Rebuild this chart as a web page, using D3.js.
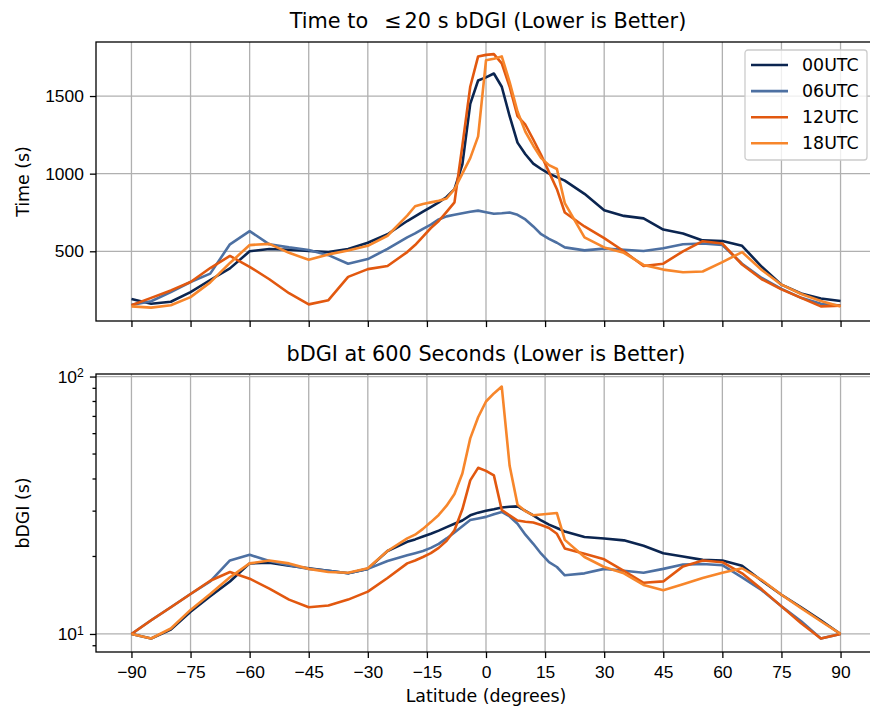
<!DOCTYPE html>
<html>
<head>
<meta charset="utf-8">
<script src="https://cdn.jsdelivr.net/npm/d3@7"></script>
<style>
    body { margin: 0; background: #fff; }
    svg { font-family: "DejaVu Sans", sans-serif; }
    .grid line { stroke: #b0b0b0; stroke-width: 1.3; }
    .axis path, .axis line { stroke: #000; stroke-width: 1.3; }
    .axis text { font-size: 17.4px; fill: #000; }
    .series { fill: none; stroke-width: 2.6; stroke-linejoin: round; }
</style>
</head>
<body>
<svg width="870" height="710"></svg>
<script>
const width = 870, height = 710;

// latitude grid shared by every series
const lats = [-90, -85, -80, -75, -70, -65, -60, -55, -50, -45, -40, -35, -30, -25, -20,
    -18, -16, -14, -12, -10, -8, -6, -4, -2, 0, 2, 4, 6, 8, 10, 12, 14, 16, 18,
    20, 25, 30, 35, 40, 45, 50, 55, 60, 65, 70, 75, 80, 85, 90];

const runs = ["00UTC", "06UTC", "12UTC", "18UTC"];
const colors = ["#0b2550", "#4d70a2", "#e2580f", "#f7862b"];

// Time to <=20 s bDGI (s)
const time00 = [192, 162, 175, 237, 315, 390, 500, 515, 510, 502, 495, 515, 555, 610, 695,
    725, 755, 785, 815, 850, 900, 1060, 1450, 1600, 1620, 1645, 1560, 1370, 1200, 1125, 1065, 1030, 1000, 978,
    955, 870, 764, 728, 712, 640, 615, 570, 566, 535, 400, 285, 228, 196, 180];
const time06 = [155, 178, 237, 302, 356, 545, 630, 545, 525, 508, 475, 420, 450, 515, 590,
    615, 645, 672, 705, 725, 735, 745, 755, 762, 752, 742, 745, 750, 735, 705, 660, 610, 580, 555,
    525, 506, 517, 510, 502, 520, 545, 550, 540, 420, 328, 258, 200, 162, 150];
const time12 = [152, 200, 248, 302, 392, 470, 400, 320, 230, 158, 185, 335, 385, 405, 495,
    540, 595, 650, 695, 754, 815, 1180, 1560, 1755, 1765, 1770, 1710, 1560, 1370, 1315, 1220, 1120, 1010, 900,
    750, 660, 585, 500, 405, 420, 500, 565, 550, 415, 320, 255, 200, 145, 150];
const time18 = [145, 137, 152, 205, 300, 425, 540, 548, 490, 445, 480, 505, 535, 600, 730,
    790, 805, 815, 825, 840, 900, 1000, 1100, 1240, 1730, 1740, 1755, 1590, 1400, 1270, 1180, 1100, 1055, 1030,
    810, 590, 525, 490, 412, 382, 365, 370, 430, 495, 380, 285, 225, 180, 145];

// bDGI at 600 seconds (s)
const dgi00 = [10, 9.6, 10.4, 12.2, 14.0, 16.0, 18.8, 18.9, 18.4, 18.0, 17.6, 17.2, 17.9, 21.0, 22.8,
    23.3, 23.9, 24.5, 25.2, 26.0, 26.8, 27.6, 28.9, 29.6, 30.1, 30.5, 31.0, 31.2, 31.3, 30.1, 28.9, 27.6, 26.6, 25.8,
    25.0, 23.8, 23.5, 23.1, 22.0, 20.6, 20.0, 19.4, 19.3, 18.4, 16.1, 14.2, 12.7, 11.3, 10];
const dgi06 = [10, 11.3, 12.7, 14.3, 16.0, 19.3, 20.3, 19.2, 18.5, 17.9, 17.6, 17.2, 17.9, 19.2, 20.2,
    20.6, 21.0, 21.6, 22.4, 23.5, 24.8, 26.2, 27.7, 28.1, 28.5, 29.2, 29.8, 28.6, 26.8, 24.3, 22.4, 20.5, 19.0, 18.2,
    16.9, 17.2, 17.9, 17.6, 17.3, 17.9, 18.6, 18.7, 18.5, 16.6, 14.8, 12.8, 11.2, 9.6, 10];
const dgi12 = [10, 11.3, 12.7, 14.3, 16.1, 17.4, 16.4, 15.0, 13.6, 12.7, 12.9, 13.6, 14.6, 16.5, 18.8,
    19.3, 19.9, 20.6, 21.6, 23.0, 25.3, 30.5, 39.5, 44.2, 43.0, 41.3, 30.3, 28.9, 27.6, 27.3, 27.1, 26.5, 25.8, 24.5,
    21.5, 20.5, 19.5, 17.6, 15.8, 16.0, 18.3, 19.3, 19.0, 17.2, 14.9, 12.8, 11.0, 9.6, 10];
const dgi18 = [10, 9.6, 10.5, 12.4, 14.3, 16.6, 18.8, 19.3, 18.8, 17.9, 17.4, 17.3, 18.0, 21.0, 23.5,
    24.3, 25.6, 27.2, 29.0, 31.5, 35.0, 42.0, 57.5, 69.5, 80.0, 86.0, 91.4, 45.0, 31.8, 30.0, 28.9, 29.1, 29.3, 29.5,
    23.2, 19.9, 18.2, 17.2, 15.5, 14.8, 15.6, 16.5, 17.3, 18.0, 16.2, 14.2, 12.6, 11.2, 10];

const xTicks = [-90, -75, -60, -45, -30, -15, 0, 15, 30, 45, 60, 75, 90];
const timeTicks = [500, 1000, 1500];
const dgiTicks = [10, 100];
const dgiMinor = [9, 20, 30, 40, 50, 60, 70, 80, 90];

const svg = d3.select("svg");
const x = d3.scaleLinear().domain([-99, 99]).range([96, 876]);
const fmtX = d => d < 0 ? "\u2212" + Math.abs(d) : String(d);
const tickLen = 6.1, tickPad = 6.1;

const topPanel = {y: d3.scaleLinear().domain([51, 1848]).range([321, 42]), t: 42, b: 321};
const botPanel = {y: d3.scaleLog().domain([8.51, 102.3]).range([652, 374]), t: 374, b: 652};

svg.append("clipPath").attr("id", "clipTop")
    .append("rect").attr("x", 96).attr("y", topPanel.t).attr("width", 780).attr("height", topPanel.b - topPanel.t);
svg.append("clipPath").attr("id", "clipBot")
    .append("rect").attr("x", 96).attr("y", botPanel.t).attr("width", 780).attr("height", botPanel.b - botPanel.t);

drawPanel(topPanel, [time00, time06, time12, time18], timeTicks, "clipTop");
drawPanel(botPanel, [dgi00, dgi06, dgi12, dgi18], dgiTicks, "clipBot");

function drawPanel(p, series, yTicks, clip) {
    const grid = svg.append("g").attr("class", "grid");
    grid.selectAll(".gx").data(xTicks).join("line")
        .attr("class", "gx")
        .attr("x1", d => x(d)).attr("x2", d => x(d))
        .attr("y1", p.t).attr("y2", p.b);
    grid.selectAll(".gy").data(yTicks).join("line")
        .attr("class", "gy")
        .attr("x1", 96).attr("x2", 876)
        .attr("y1", d => p.y(d)).attr("y2", d => p.y(d));

    const line = d3.line().x((d, i) => x(lats[i])).y(d => p.y(d));
    svg.append("g").attr("clip-path", `url(#${clip})`)
        .selectAll("path").data(series).join("path")
        .attr("class", "series")
        .attr("stroke", (d, i) => colors[i])
        .attr("d", line);

    // spines
    svg.append("rect")
        .attr("x", 96).attr("y", p.t).attr("width", 780).attr("height", p.b - p.t)
        .attr("fill", "none").attr("stroke", "#000").attr("stroke-width", 1.3);
}

// x axes
svg.append("g").attr("class", "axis")
    .attr("transform", `translate(0,${topPanel.b})`)
    .call(d3.axisBottom(x).tickValues(xTicks).tickSize(tickLen).tickFormat(""))
    .call(g => g.select(".domain").remove());
svg.append("g").attr("class", "axis")
    .attr("transform", `translate(0,${botPanel.b})`)
    .call(d3.axisBottom(x).tickValues(xTicks).tickSize(tickLen).tickPadding(7.5).tickFormat(fmtX))
    .call(g => g.select(".domain").remove());

// y axes
svg.append("g").attr("class", "axis")
    .attr("transform", "translate(96,0)")
    .call(d3.axisLeft(topPanel.y).tickValues(timeTicks).tickSize(tickLen).tickPadding(tickPad).tickFormat(d3.format("d")))
    .call(g => g.select(".domain").remove());

const dgiAxis = svg.append("g").attr("class", "axis")
    .attr("transform", "translate(96,0)")
    .call(d3.axisLeft(botPanel.y).tickValues(dgiTicks).tickSize(tickLen).tickPadding(tickPad).tickFormat(""))
    .call(g => g.select(".domain").remove());
dgiAxis.selectAll(".tick text").each(function (d) {
    const t = d3.select(this);
    t.append("tspan").text("10");
    t.append("tspan").attr("dy", "-0.45em").style("font-size", "12.2px").text(Math.round(Math.log10(d)));
});
svg.append("g").attr("class", "axis")
    .selectAll("line").data(dgiMinor).join("line")
    .attr("x1", 96).attr("x2", 96 - 3.5)
    .attr("y1", d => botPanel.y(d)).attr("y2", d => botPanel.y(d));

// titles and labels
const label = (txt, xx, yy, size, rot) => svg.append("text")
    .attr("transform", `translate(${xx},${yy})` + (rot ? " rotate(-90)" : ""))
    .attr("text-anchor", "middle")
    .style("font-size", size + "px")
    .text(txt);

const title1 = label("", 488, 28, 20.8);
title1.append("tspan").text("Time to");
title1.append("tspan").attr("dx", 16).text("\u2264");
title1.append("tspan").attr("dx", 3).text("20");
title1.append("tspan").text("\u00a0s bDGI (Lower is Better)");
label("bDGI at 600 Seconds (Lower is Better)", 486, 361, 20.8);
label("Time (s)", 28.5, (topPanel.t + topPanel.b) / 2, 17.4, true);
label("bDGI (s)", 28.5, (botPanel.t + botPanel.b) / 2, 17.4, true);
label("Latitude (degrees)", 486, 702, 17.4);

// legend
const legend = svg.append("g").attr("transform", "translate(745,50)");
legend.append("rect")
    .attr("width", 122).attr("height", 110).attr("rx", 3)
    .attr("fill", "#fff").attr("fill-opacity", 0.8)
    .attr("stroke", "#cccccc").attr("stroke-width", 1.3);
const item = legend.selectAll(".item").data(runs).join("g")
    .attr("class", "item")
    .attr("transform", (d, i) => `translate(0,${15 + i * 26.1})`);
item.append("line")
    .attr("x1", 6).attr("x2", 43)
    .attr("stroke", (d, i) => colors[i]).attr("stroke-width", 2.6);
item.append("text")
    .attr("x", 57).attr("dy", "0.35em")
    .style("font-size", "17.4px")
    .text(d => d);
</script>
</body>
</html>
